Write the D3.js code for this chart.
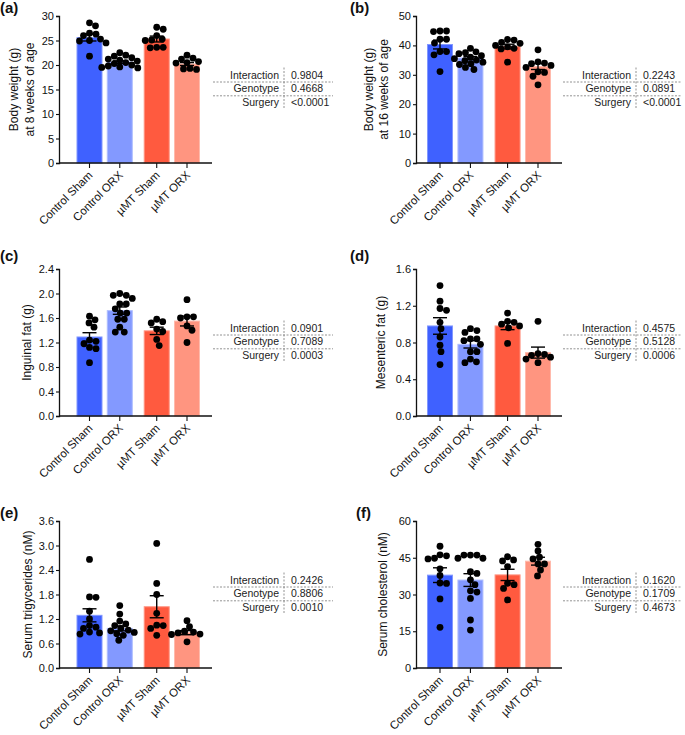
<!DOCTYPE html>
<html>
<head>
<meta charset="utf-8">
<script src="https://cdn.jsdelivr.net/npm/d3@7"></script>
<style>
  body { margin: 0; background: #fff; }
  svg { font-family: "Liberation Sans", Arial, sans-serif; }
  .tick text { font-size: 11px; fill: #111; }
</style>
</head>
<body>
<svg id="fig" width="685" height="735"></svg>
<script>
// groups
var groups = ["Control Sham", "Control ORX", "\u00b5MT Sham", "\u00b5MT ORX"];
var colors = ["#3f61ff", "#8399ff", "#ff5a3f", "#ff9580"];
var statNames = ["Interaction", "Genotype", "Surgery"];

// (a) body weight 8 weeks
var bw8Means = [25.6, 20.6, 25.3, 20.2];
var bw8Sems = [0.7, 0.25, 0.6, 0.3];
var bw8Points = [
  [28.6, 28.0, 26.5, 26.3, 26.0, 25.3, 25.0, 24.9, 24.5, 21.8],
  [22.5, 22.0, 21.8, 21.5, 21.2, 21.0, 20.8, 20.5, 20.3, 20.0, 19.8, 19.6, 19.5, 19.4],
  [27.7, 27.3, 26.0, 25.3, 25.1, 25.0, 23.6, 23.6, 23.5],
  [22.0, 21.4, 21.2, 20.7, 20.5, 20.4, 19.3, 19.2, 19.1]
];
var bw8Stats = ["0.9804", "0.4668", "<0.0001"];

// (b) body weight 16 weeks
var bw16Means = [40.3, 35.7, 39.6, 32.8];
var bw16Sems = [1.5, 0.5, 0.8, 1.0];
var bw16Points = [
  [44.9, 44.9, 44.7, 42.1, 42.1, 40.8, 37.9, 37.9, 36.8, 31.1],
  [39.0, 37.8, 37.5, 37.2, 36.5, 36.0, 35.5, 35.0, 34.8, 34.3, 33.8, 33.5, 32.5, 31.8],
  [42.0, 41.8, 41.0, 40.7, 40.0, 39.5, 39.0, 38.8, 34.3],
  [38.5, 34.4, 34.0, 33.8, 33.2, 32.5, 31.0, 30.8, 29.5, 26.6]
];
var bw16Stats = ["0.2243", "0.0891", "<0.0001"];

// (c) inguinal fat
var ingMeans = [1.29, 1.72, 1.39, 1.55];
var ingSems = [0.07, 0.06, 0.06, 0.08];
var ingPoints = [
  [1.63, 1.57, 1.52, 1.45, 1.24, 1.22, 1.18, 1.12, 1.10, 0.87],
  [2.00, 1.97, 1.97, 1.92, 1.83, 1.83, 1.75, 1.68, 1.68, 1.58, 1.58, 1.45, 1.37, 1.37],
  [1.58, 1.54, 1.52, 1.42, 1.38, 1.25, 1.15],
  [1.90, 1.62, 1.62, 1.60, 1.47, 1.40, 1.20]
];
var ingStats = ["0.0901", "0.7089", "0.0003"];

// (d) mesenteric fat
var mesMeans = [0.98, 0.78, 0.98, 0.69];
var mesSems = [0.09, 0.04, 0.04, 0.06];
var mesPoints = [
  [1.42, 1.25, 1.17, 1.15, 1.02, 0.95, 0.86, 0.77, 0.70, 0.56],
  [0.95, 0.93, 0.91, 0.84, 0.84, 0.82, 0.78, 0.70, 0.70, 0.62, 0.59, 0.58],
  [1.12, 1.03, 1.02, 1.00, 0.98, 0.96, 0.79],
  [1.03, 0.68, 0.67, 0.66, 0.64, 0.62, 0.58]
];
var mesStats = ["0.4575", "0.5128", "0.0006"];

// (e) serum triglycerides
var tgMeans = [1.29, 0.97, 1.50, 0.865];
var tgSems = [0.16, 0.06, 0.27, 0.05];
var tgPoints = [
  [2.66, 1.74, 1.73, 1.39, 1.20, 1.04, 1.00, 0.97, 0.88, 0.86, 0.83],
  [1.53, 1.32, 1.15, 1.08, 1.04, 0.97, 0.93, 0.91, 0.87, 0.84, 0.80, 0.68],
  [3.05, 2.07, 1.80, 1.34, 1.05, 1.04, 0.97, 0.80],
  [1.16, 1.01, 0.90, 0.88, 0.86, 0.83, 0.82, 0.64]
];
var tgStats = ["0.2426", "0.8806", "0.0010"];

// (f) serum cholesterol
var cholMeans = [37.9, 35.9, 38.0, 43.6];
var cholSems = [3.0, 2.6, 2.3, 1.6];
var cholPoints = [
  [49.7, 46.2, 45.8, 44.8, 44.5, 40.5, 37.8, 34.7, 34.5, 28.2, 16.6],
  [46.1, 46.1, 46.1, 44.8, 44.8, 39.3, 38.6, 36.0, 34.0, 31.5, 31.0, 28.4, 19.6, 15.5],
  [45.4, 44.1, 43.7, 41.4, 34.6, 34.0, 32.5, 27.8],
  [50.5, 47.8, 45.2, 44.5, 42.5, 42.5, 40.0, 37.6]
];
var cholStats = ["0.1620", "0.1709", "0.4673"];

var panels = [
  {tag: "(a)", col: 0, row: 0, means: bw8Means, sems: bw8Sems, pts: bw8Points, stats: bw8Stats,
   ticks: d3.range(0, 31, 5), fmt: d3.format("d"), label: ["Body weight (g)", "at 8 weeks of age"], lx: [-41, -25]},
  {tag: "(b)", col: 1, row: 0, means: bw16Means, sems: bw16Sems, pts: bw16Points, stats: bw16Stats,
   ticks: d3.range(0, 51, 10), fmt: d3.format("d"), label: ["Body weight (g)", "at 16 weeks of age"], lx: [-43, -28]},
  {tag: "(c)", col: 0, row: 1, means: ingMeans, sems: ingSems, pts: ingPoints, stats: ingStats,
   ticks: [0, 0.4, 0.8, 1.2, 1.6, 2.0, 2.4], fmt: d3.format(".1f"), label: ["Inguinal fat (g)"], lx: [-28]},
  {tag: "(d)", col: 1, row: 1, means: mesMeans, sems: mesSems, pts: mesPoints, stats: mesStats,
   ticks: [0, 0.4, 0.8, 1.2, 1.6], fmt: d3.format(".1f"), label: ["Mesenteric fat (g)"], lx: [-31]},
  {tag: "(e)", col: 0, row: 2, means: tgMeans, sems: tgSems, pts: tgPoints, stats: tgStats,
   ticks: [0, 0.6, 1.2, 1.8, 2.4, 3.0, 3.6], fmt: d3.format(".1f"), label: ["Serum trigycerides (nM)"], lx: [-27]},
  {tag: "(f)", col: 1, row: 2, means: cholMeans, sems: cholSems, pts: cholPoints, stats: cholStats,
   ticks: [0, 15, 30, 45, 60], fmt: d3.format("d"), label: ["Serum cholesterol (nM)"], lx: [-29]}
];

// layout
var cols = [
  {axisX: 59, first: 30.5, last: 128, end: 153, tagX: 0, tabL: 213, tabDiv: 284, tabR: 333},
  {axisX: 416, first: 24, last: 122, end: 146, tagX: 350, tabL: 563, tabDiv: 636, tabR: 681}
];
var rows = [
  {top: 16, bottom: 163, tagY: 13},
  {top: 269, bottom: 416, tagY: 261},
  {top: 521, bottom: 668, tagY: 518}
];
var slots = [0, 1, 2.22, 3.22];
var barW = 25, r = 3.4;

var svg = d3.select("#fig");

panels.forEach(function(p) {
  var c = cols[p.col], rw = rows[p.row];
  var g = svg.append("g");
  var ymax = p.ticks[p.ticks.length - 1];
  var y = d3.scaleLinear().domain([0, ymax]).range([rw.bottom, rw.top]);
  var xs = d3.scaleLinear().domain([0, slots[3]]).range([c.axisX + c.first, c.axisX + c.last]);
  var xc = function(i) { return xs(slots[i]); };

  // tag
  g.append("text").attr("x", p.tag === "(f)" ? c.tagX + 6 : c.tagX).attr("y", rw.tagY)
    .attr("font-size", 15).attr("font-weight", "bold").attr("fill", "#111").text(p.tag);

  // bars
  g.selectAll("rect.bar").data(p.means).enter().append("rect")
    .attr("class", "bar")
    .attr("x", function(d, i) { return xc(i) - barW / 2; })
    .attr("width", barW)
    .attr("y", function(d) { return y(d); })
    .attr("height", function(d) { return rw.bottom - y(d); })
    .attr("fill", function(d, i) { return colors[i]; })
    .attr("stroke", function(d, i) { return d3.interpolateRgb(colors[i], "#fff")(0.35); })
    .attr("stroke-width", 1);

  // dots, simple beeswarm
  p.pts.forEach(function(vals, i) {
    var placed = [];
    vals.slice().sort(function(a, b) { return b - a; }).forEach(function(v) {
      var py = y(v), off = 0, k = 0;
      while (true) {
        var cand = (k === 0) ? 0 : (k % 2 ? 1 : -1) * Math.ceil(k / 2) * 0.5;
        var ok = placed.every(function(q) {
          return Math.hypot(q[0] - cand, q[1] - py) >= 2 * r * 0.95;
        });
        if (ok) { off = cand; break; }
        k++;
      }
      placed.push([off, py]);
    });
    g.selectAll(null).data(placed).enter().append("circle")
      .attr("cx", function(d) { return xc(i) + d[0]; })
      .attr("cy", function(d) { return d[1]; })
      .attr("r", r).attr("fill", "#000");
  });

  // error bars (mean +/- SEM)
  p.means.forEach(function(m, i) {
    var s = p.sems[i], cx = xc(i), hw = 7;
    var eb = g.append("g").attr("stroke", "#000").attr("stroke-width", 1.4);
    eb.append("line").attr("x1", cx).attr("x2", cx).attr("y1", y(m + s)).attr("y2", y(m - s));
    eb.append("line").attr("x1", cx - hw).attr("x2", cx + hw).attr("y1", y(m + s)).attr("y2", y(m + s));
    eb.append("line").attr("x1", cx - hw).attr("x2", cx + hw).attr("y1", y(m - s)).attr("y2", y(m - s));
  });

  // y axis
  var ya = g.append("g").attr("transform", "translate(" + c.axisX + ",0)")
    .call(d3.axisLeft(y).tickValues(p.ticks).tickFormat(p.fmt).tickSize(3).tickPadding(2));
  ya.select(".domain").attr("stroke-width", 1.3).attr("stroke", "#111");
  ya.selectAll(".tick line").attr("stroke-width", 1.1).attr("stroke", "#111");

  // x axis line + ticks
  g.append("line").attr("x1", c.axisX).attr("x2", c.axisX + c.end)
    .attr("y1", rw.bottom).attr("y2", rw.bottom).attr("stroke", "#111").attr("stroke-width", 1.3);
  groups.forEach(function(name, i) {
    g.append("line").attr("x1", xc(i)).attr("x2", xc(i))
      .attr("y1", rw.bottom).attr("y2", rw.bottom + 5).attr("stroke", "#111").attr("stroke-width", 1.1);
    g.append("text")
      .attr("transform", "translate(" + (xc(i) + 1) + "," + (rw.bottom + 10) + ") rotate(-45)")
      .attr("text-anchor", "end").attr("dy", "0.35em")
      .attr("font-size", 11.5).attr("fill", "#111").text(name);
  });

  // y label
  var mid = (rw.top + rw.bottom) / 2;
  p.label.forEach(function(t, j) {
    g.append("text")
      .attr("transform", "translate(" + (c.axisX + p.lx[j]) + "," + mid + ") rotate(-90)")
      .attr("text-anchor", "middle").attr("font-size", 12).attr("fill", "#111").text(t);
  });

  // stats table
  var rowY = statNames.map(function(d, j) { return mid - 11 + j * 13.8; });
  var t = g.append("g").attr("font-size", 10.5).attr("fill", "#222");
  statNames.forEach(function(nm, j) {
    t.append("text").attr("x", c.tabDiv - 5).attr("y", rowY[j]).attr("text-anchor", "end").text(nm);
    t.append("text").attr("x", c.tabDiv + 7).attr("y", rowY[j]).text(p.stats[j]);
  });
  [0, 1].forEach(function(j) {
    t.append("line").attr("x1", c.tabL).attr("x2", c.tabR)
      .attr("y1", rowY[j] + 3.5).attr("y2", rowY[j] + 3.5)
      .attr("stroke", "#777").attr("stroke-width", 0.8).attr("stroke-dasharray", "2,1.5");
  });
  t.append("line").attr("x1", c.tabDiv).attr("x2", c.tabDiv)
    .attr("y1", rowY[0] - 11).attr("y2", rowY[2] + 2)
    .attr("stroke", "#777").attr("stroke-width", 0.8).attr("stroke-dasharray", "2,1.5");
});
</script>
</body>
</html>
